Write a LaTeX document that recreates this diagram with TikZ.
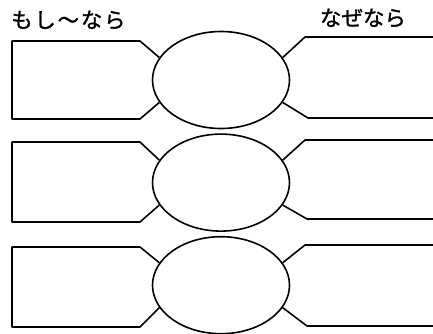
\documentclass[tikz,border=0pt]{standalone}
\usepackage{fontspec}
\newfontfamily\jpfont{Noto Sans CJK JP}[FakeBold=1.2]
\usetikzlibrary{positioning,shapes.geometric}

\begin{document}
\begin{tikzpicture}[x=1pt,y=-1pt,
  node distance=4pt,
  oval/.style={draw,ellipse,line width=1.6pt,minimum width=137pt,minimum height=97pt,inner sep=0pt},
  outline/.style={line width=1.6pt,line join=round},
  heading/.style={font=\jpfont\fontsize{21.5}{21.5}\selectfont,inner sep=0pt}
]
\useasboundingbox (0,0) rectangle (433,334);
\clip (0,0) rectangle (433,334);
\node[heading,anchor=west] (ifpart) at (11,20) {\addfontfeature{LetterSpace=8}もし〜なら};
\node[heading] (because) at (363,18) {なぜなら};
\node[oval] (hub1) at (221,80) {};
\node[oval,below=of hub1] (hub2) {};
\node[oval,below=of hub2] (hub3) {};
% left boxes
\draw[outline] (hub1.160) -- (140,41) -- (12,41) -- (12,119) -- (140,119) -- (hub1.200);
\draw[outline] (hub2.160) -- (140,142) -- (12,142) -- (12,222) -- (140,222) -- (hub2.200);
\draw[outline] (hub3.160) -- (140,247) -- (12,247) -- (12,327) -- (140,327) -- (hub3.200);
% right boxes
\draw[outline] (hub1.20) -- (305,37) -- (440,37);
\draw[outline] (hub1.-20) -- (308,118) -- (440,118);
\draw[outline] (hub2.20) -- (305,140) -- (440,140);
\draw[outline] (hub2.-20) -- (307,219) -- (440,219);
\draw[outline] (hub3.20) -- (305,245) -- (440,245);
\draw[outline] (hub3.-20) -- (307,326) -- (440,326);
\end{tikzpicture}
\end{document}
